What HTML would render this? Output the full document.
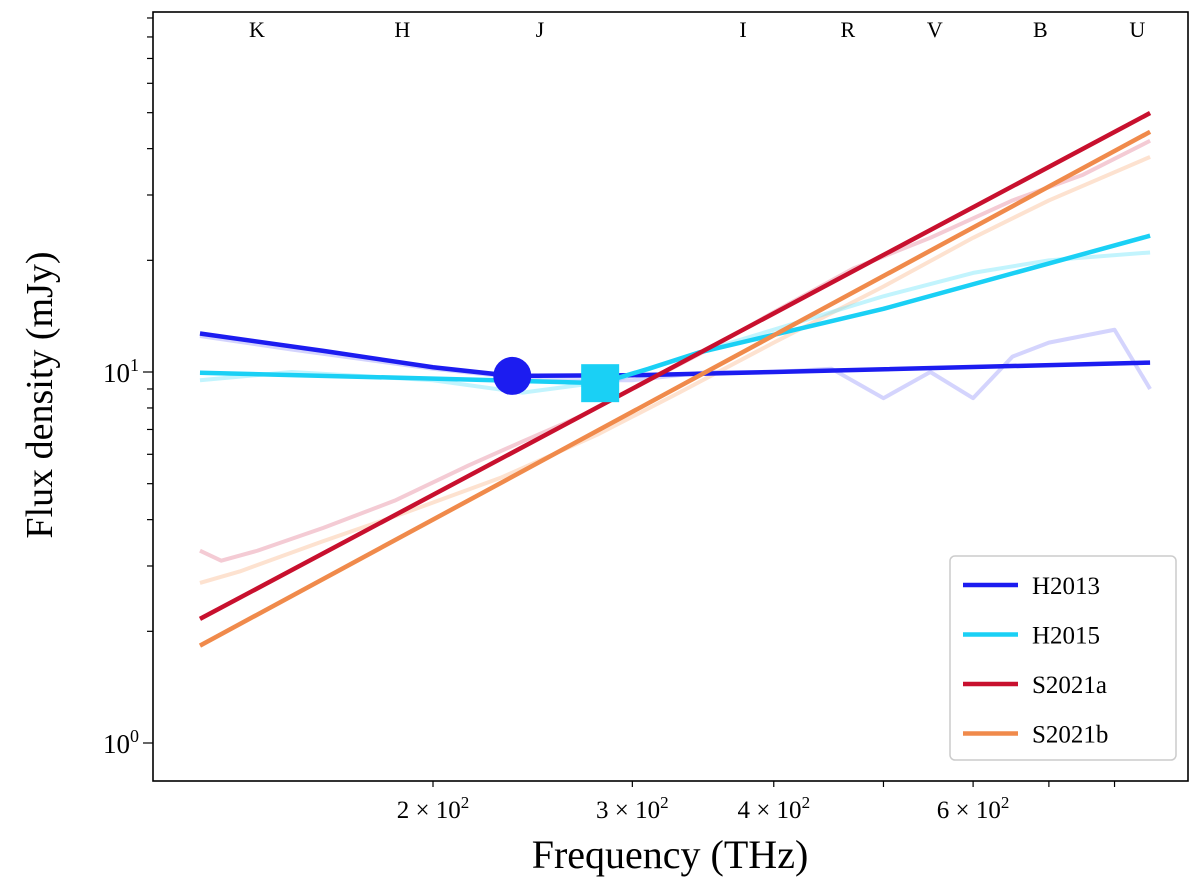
<!DOCTYPE html>
<html><head><meta charset="utf-8"><style>
body{margin:0;background:#fff;}
svg text{font-family:"Liberation Serif","DejaVu Serif",serif;fill:#000;}
</style></head><body>
<svg id="chart" width="1200" height="890"></svg>
<script>
const bandLabels=["K","H","J","I","R","V","B","U"];
const bandFreqs=[139.8,187.9,248.6,375.8,465,555,688,838];
const xTickVals=[200,300,400,500,600,700,800];
const xTickLabels=["2","3","4","","6","",""];
const seriesNames=["H2013","H2015","S2021a","S2021b"];
const seriesColors=["#1c1cf0","#1ad0f5","#c8102e","#f08a4b"];
const h2013Freq=[124.5,160,200,235,300,400,860];
const h2013Flux=[12.7,11.4,10.3,9.76,9.8,10.0,10.6];
const h2015Freq=[124.5,200,281,310,344,400,500,860];
const h2015Flux=[9.95,9.6,9.33,10.2,11.3,12.6,14.8,23.3];
const s2021aFreq=[124.5,860];
const s2021aFlux=[2.16,49.9];
const s2021bFreq=[124.5,860];
const s2021bFlux=[1.83,44.4];
const specPinkFreq=[124.5,130,140,160,185,215,240,270,300,350,400,470,550,650,750,860];
const specPinkFlux=[3.3,3.1,3.3,3.8,4.5,5.6,6.5,7.6,9.0,11.5,14.5,19,23,29,34,42];
const specPeachFreq=[124.5,135,160,190,230,280,330,400,500,600,700,860];
const specPeachFlux=[2.7,2.9,3.5,4.2,5.2,6.8,8.8,12,17,23,29,38];
const specLBlueFreq=[124.5,150,200,240,290,350,400,500,600,700,860];
const specLBlueFlux=[9.5,10,9.5,8.8,9.5,11.5,13,16,18.5,20,21];
const specLavFreq=[124.5,150,200,250,300,350,400,450,500,550,600,650,700,800,860];
const specLavFlux=[12.5,11.5,10.2,9.5,9.5,10,10,10.2,8.5,10,8.5,11,12,13,9];
const specColors=["rgba(230,140,160,0.45)","rgba(250,190,150,0.45)","rgba(120,230,250,0.45)","rgba(160,160,250,0.45)"];

const L=153,R=1188,T=12,B=781;
const fx=f=>433+1132*Math.log10(f/200);
const fy=v=>743-371*Math.log10(v);
const NS="http://www.w3.org/2000/svg";
const svg=document.getElementById('chart');
function mk(t,a,p){const e=document.createElementNS(NS,t);for(const k in a)e.setAttribute(k,a[k]);(p||svg).appendChild(e);return e;}
const clip=mk('clipPath',{id:'c'});mk('rect',{x:L,y:T,width:R-L,height:B-T},clip);
const g=mk('g',{'clip-path':'url(#c)'});
function line(fr,fl,col,w,name){
  const p=mk('polyline',{points:fr.map((f,i)=>fx(f)+','+fy(fl[i])).join(' '),fill:'none',stroke:col,'stroke-width':w,'stroke-linejoin':'round'},g);
  
  
}
line(specPinkFreq,specPinkFlux,specColors[0],4,'spectrum-pink');
line(specPeachFreq,specPeachFlux,specColors[1],4,'spectrum-peach');
line(specLBlueFreq,specLBlueFlux,specColors[2],4,'spectrum-lightblue');
line(specLavFreq,specLavFlux,specColors[3],4,'spectrum-lavender');
line(h2013Freq,h2013Flux,seriesColors[0],4.5,'line-h2013');
line(h2015Freq,h2015Flux,seriesColors[1],4.5,'line-h2015');
line(s2021aFreq,s2021aFlux,seriesColors[2],4.5,'line-s2021a');
line(s2021bFreq,s2021bFlux,seriesColors[3],4.5,'line-s2021b');
const circ=mk('circle',{cx:fx(235),cy:fy(9.76),r:19,fill:seriesColors[0]});

const sq=mk('rect',{x:fx(281)-19,y:fy(9.33)-19,width:38,height:38,fill:seriesColors[1]});

const fr=mk('rect',{x:L,y:T,width:R-L,height:B-T,fill:'none',stroke:'#000','stroke-width':1.6});

xTickVals.forEach((v,i)=>{const x=fx(v);mk('line',{x1:x,x2:x,y1:B,y2:B+6,stroke:'#000','stroke-width':1.2});
 if(xTickLabels[i]){const t=mk('text',{x:x,y:B+37,'text-anchor':'middle','font-size':25});
 t.innerHTML=xTickLabels[i]+' × 10<tspan dy="-10" font-size="17">2</tspan>';
 }});
for(let d=0;d<2;d++)for(let m=1;m<10;m++){const v=m*Math.pow(10,d);const y=fy(v);if(y<T)continue;
 mk('line',{x1:L-(m==1?10:6),x2:L,y1:y,y2:y,stroke:'#000','stroke-width':1.2});
 if(m==1){const t=mk('text',{x:L-14,y:y+10,'text-anchor':'end','font-size':27});t.innerHTML='10<tspan dy="-11" font-size="18">'+d+'</tspan>';
 }}
bandLabels.forEach((b,i)=>{const t=mk('text',{x:fx(bandFreqs[i]),y:37,'text-anchor':'middle','font-size':22});t.textContent=b;
 });
const xl=mk('text',{x:670,y:868,'text-anchor':'middle','font-size':40});xl.textContent='Frequency (THz)';

const yl=mk('text',{x:52,y:395,'text-anchor':'middle','font-size':38,transform:'rotate(-90 52 395)'});yl.textContent='Flux density (mJy)';

const lg=mk('rect',{x:950,y:556,width:226,height:204,rx:5,fill:'#fff',stroke:'#ccc','stroke-width':1.5});

seriesNames.forEach((n,i)=>{const y=585+49.5*i;
 const l=mk('line',{x1:963,x2:1018,y1:y,y2:y,stroke:seriesColors[i],'stroke-width':4.5});
 
 const t=mk('text',{x:1032,y:y+9,'font-size':25});t.textContent=n;
 });
</script>
</body></html>
